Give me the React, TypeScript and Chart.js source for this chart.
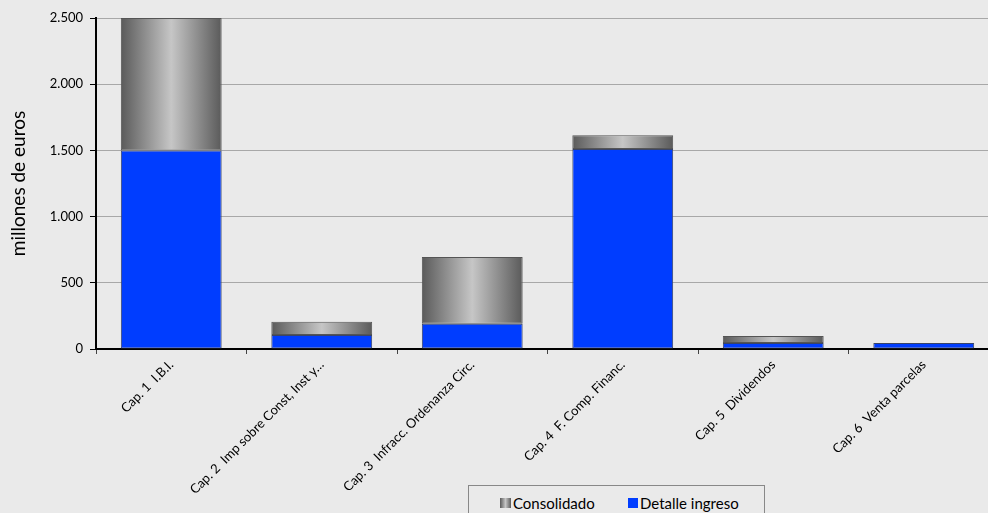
import React, { useEffect, useRef } from "react";
import { Chart, registerables } from "chart.js";

Chart.register(...registerables);

const categories = [
  "Cap. 1  I.B.I.",
  "Cap. 2  Imp sobre Const, Inst y…",
  "Cap. 3  Infracc. Ordenanza Circ.",
  "Cap. 4  F. Comp. Financ.",
  "Cap. 5  Dividendos",
  "Cap. 6  Venta parcelas",
];
const detalleIngreso = [1500, 105, 190, 1510, 45, 45];
const consolidado = [1000, 100, 505, 105, 53, 0];
const yTicks = [0, 500, 1000, 1500, 2000, 2500];

const BAR_PCT = 0.67;
const FONT = "Lato, 'Open Sans', sans-serif";
const BG = "#eaeaea";
const BLUE = "#003dff";

const fmt = (v: number) => String(v).replace(/\B(?=(\d{3})+(?!\d))/g, ".");

export default function App() {
  const ref = useRef<HTMLCanvasElement | null>(null);

  useEffect(() => {
    const canvas = ref.current;
    if (!canvas) return;
    const bgPlugin = {
      id: "bg",
      beforeDraw(chart: any) {
        const c = chart.ctx;
        c.save();
        c.fillStyle = BG;
        c.fillRect(0, 0, chart.width, chart.height);
        c.restore();
      },
    };
    const grayGradient = (ctx: any) => {
      const chart = ctx.chart;
      const x = chart.scales && chart.scales.x;
      if (!x || ctx.type !== "data") return "#999";
      const center = x.getPixelForValue(ctx.dataIndex);
      const w = (x.width / categories.length) * BAR_PCT;
      if (!isFinite(center) || !isFinite(w) || w <= 0) return "#999";
      const g = chart.ctx.createLinearGradient(center - w / 2, 0, center + w / 2, 0);
      g.addColorStop(0, "#5a5a5a");
      g.addColorStop(0.5, "#c6c6c6");
      g.addColorStop(1, "#5a5a5a");
      return g;
    };
    const chart = new Chart(canvas, {
      type: "bar",
      data: {
        labels: categories,
        datasets: [
          {
            label: "Detalle ingreso",
            data: detalleIngreso,
            backgroundColor: BLUE,
            borderColor: "#3a4468",
            borderWidth: 1,
            borderSkipped: false,
            categoryPercentage: 1,
            barPercentage: BAR_PCT,
          },
          {
            label: "Consolidado",
            data: consolidado,
            backgroundColor: grayGradient as any,
            borderColor: "#555",
            borderWidth: 1,
            borderSkipped: false,
            categoryPercentage: 1,
            barPercentage: BAR_PCT,
          },
        ],
      },
      options: {
        responsive: false,
        animation: false,
        layout: { padding: { top: 18, left: 0, right: 0, bottom: 0 } },
        plugins: {
          legend: { display: false },
          tooltip: { enabled: false },
        },
        scales: {
          x: {
            stacked: true,
            offset: true,
            border: { color: "#000", width: 2 },
            grid: {
              offset: true,
              drawOnChartArea: false,
              drawTicks: true,
              tickLength: 5,
              tickColor: "#444",
            },
            ticks: {
              autoSkip: false,
              minRotation: 45,
              maxRotation: 45,
              color: "#000",
              padding: 3,
              font: { family: FONT, size: 13 },
            },
            afterFit: (s: any) => {
              s.height = 164;
              s.paddingLeft = 0;
              s.paddingRight = 0;
            },
          },
          y: {
            stacked: true,
            min: 0,
            max: 2500,
            border: { color: "#000", width: 2 },
            grid: {
              color: "#a8a8a8",
              lineWidth: 1,
              tickColor: "#000",
              tickLength: 6,
            },
            afterBuildTicks: (s: any) => {
              s.ticks = yTicks.map((v) => ({ value: v }));
            },
            ticks: {
              color: "#000",
              padding: 7,
              font: { family: FONT, size: 13 },
              callback: (v: any) => fmt(Number(v)),
            },
            title: {
              display: true,
              text: "millones de euros",
              color: "#000",
              font: { family: FONT, size: 19 },
              padding: { top: 7, bottom: 0 },
            },
            afterFit: (s: any) => {
              s.width = 96;
              s.paddingTop = 0;
              s.paddingBottom = 0;
            },
          },
        },
      },
      plugins: [bgPlugin],
    });
    return () => chart.destroy();
  }, []);

  return (
    <div
      style={{
        position: "fixed",
        left: 0,
        top: 0,
        width: 988,
        height: 513,
        overflow: "hidden",
        background: BG,
      }}
    >
      <canvas ref={ref} width={999} height={513} style={{ display: "block" }} />
      <div
        style={{
          position: "absolute",
          left: 468,
          top: 485,
          width: 297,
          height: 40,
          border: "1px solid #888",
          background: BG,
          fontFamily: FONT,
          fontSize: 15,
          color: "#000",
          boxSizing: "border-box",
        }}
      >
        <div style={{ position: "absolute", left: 31, top: 8, display: "flex", alignItems: "center", whiteSpace: "nowrap" }}>
          <span
            style={{
              display: "inline-block",
              width: 11,
              height: 10,
              marginRight: 2,
              background: "linear-gradient(to right, #5a5a5a, #c6c6c6 50%, #5a5a5a)",
            }}
          />
          <span>Consolidado</span>
        </div>
        <div style={{ position: "absolute", left: 159, top: 8, display: "flex", alignItems: "center", whiteSpace: "nowrap" }}>
          <span style={{ display: "inline-block", width: 10, height: 10, marginRight: 2, background: BLUE }} />
          <span>Detalle ingreso</span>
        </div>
      </div>
    </div>
  );
}
